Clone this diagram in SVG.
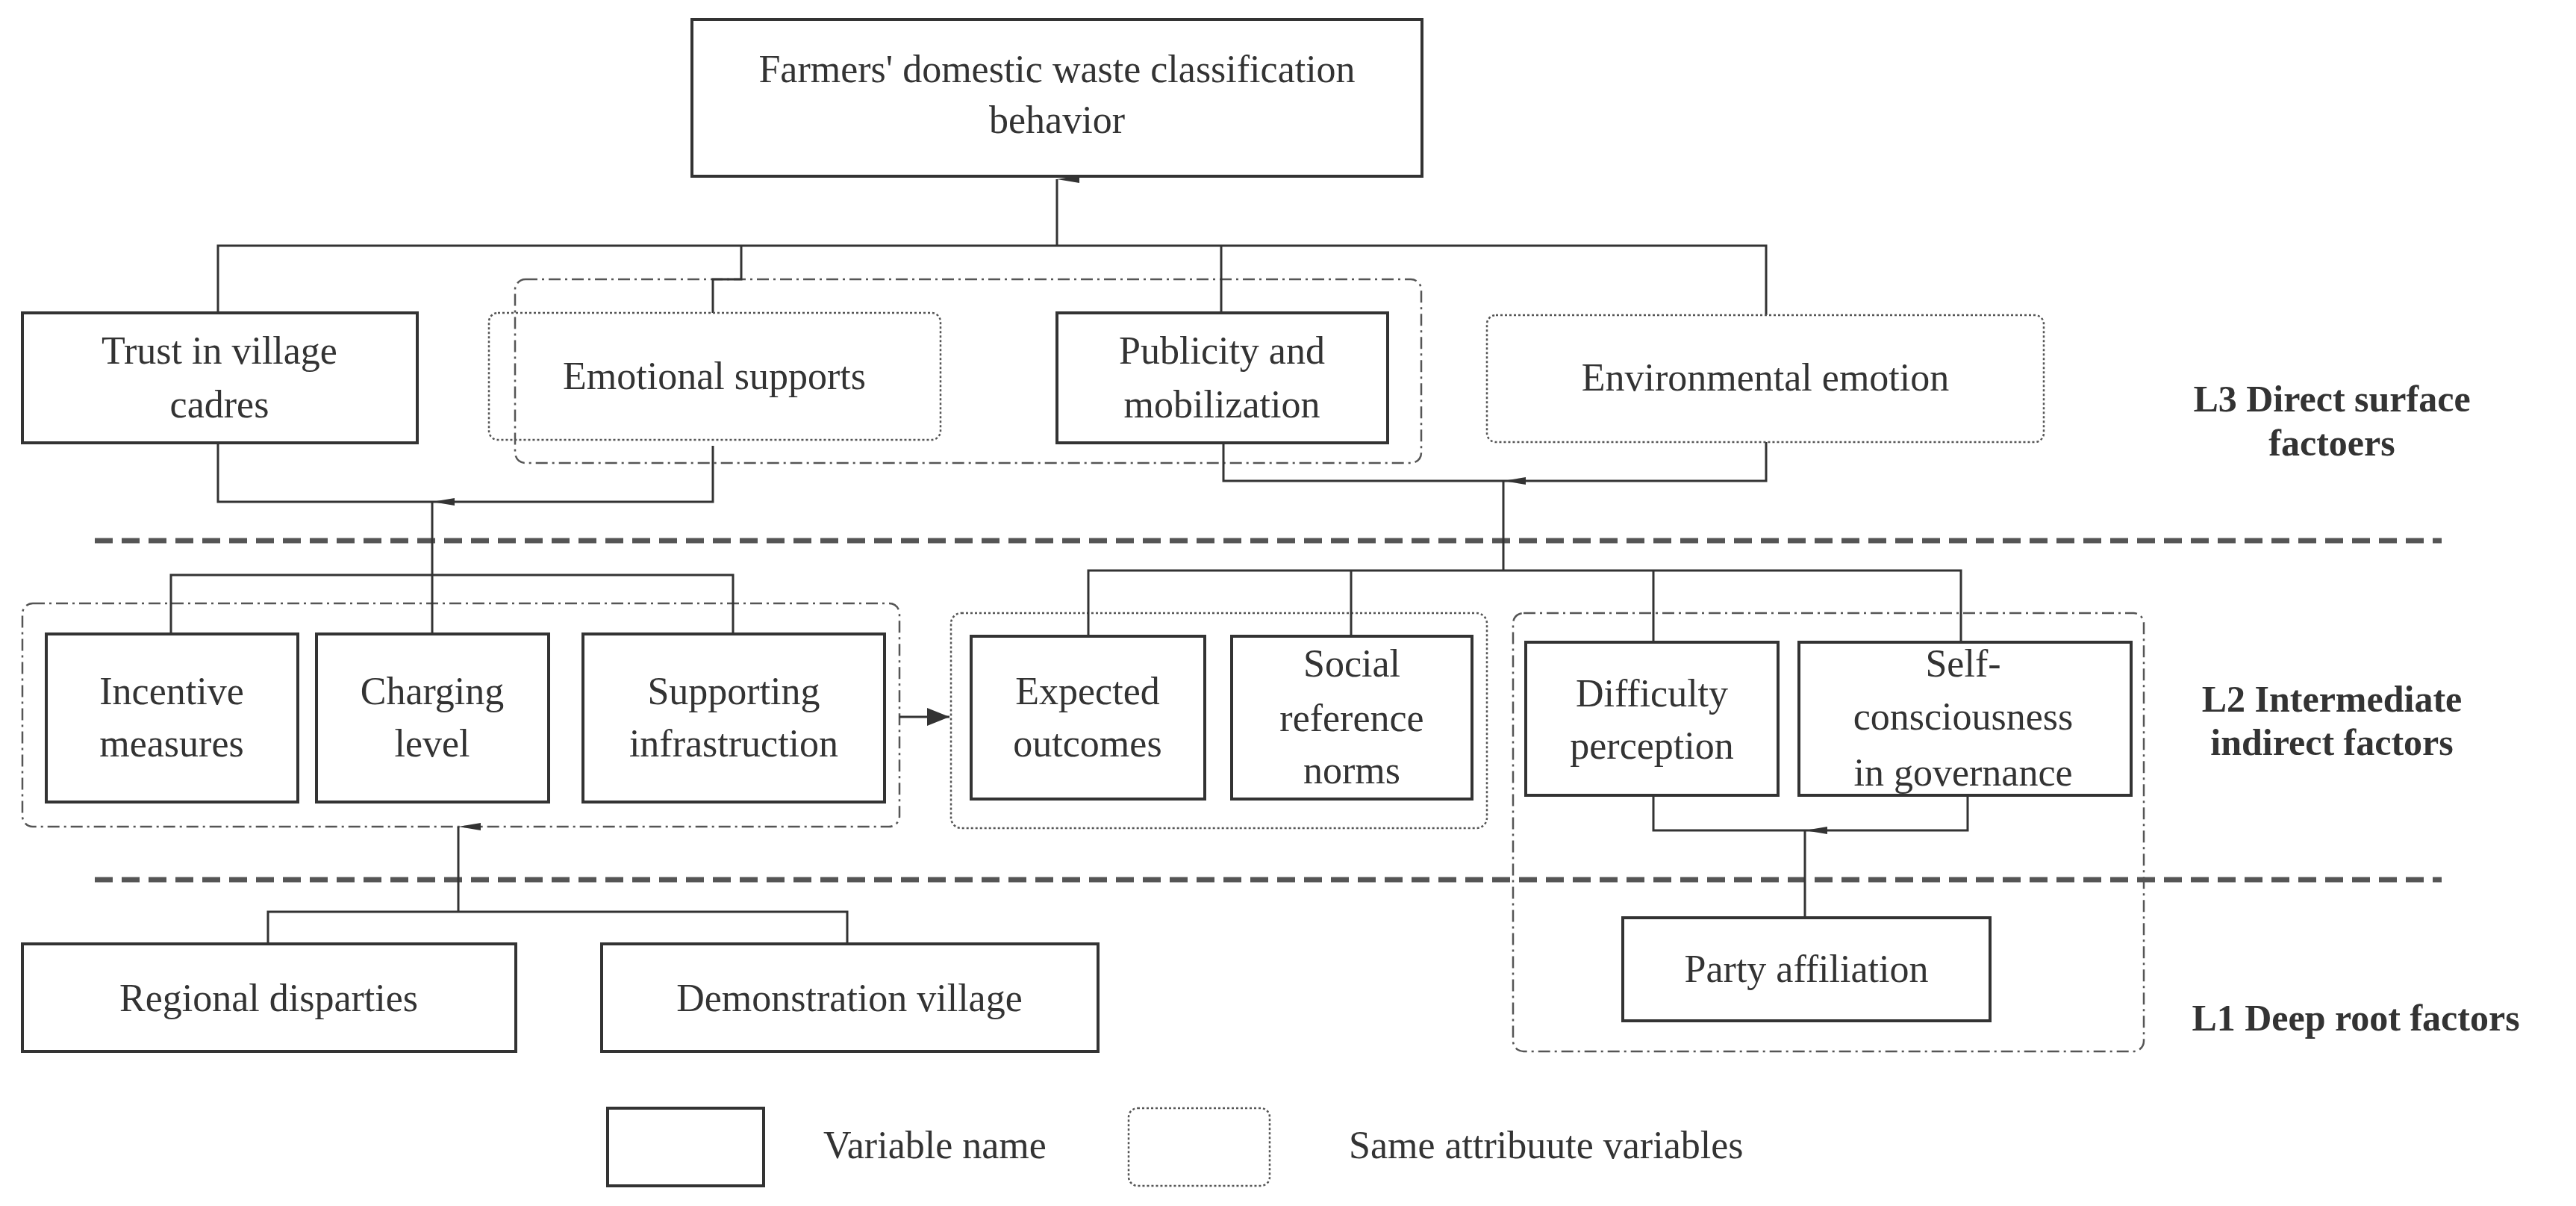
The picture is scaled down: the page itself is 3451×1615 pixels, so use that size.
<svg xmlns="http://www.w3.org/2000/svg" width="3451" height="1615" viewBox="0 0 3451 1615">
<style>
text{font-family:"Liberation Serif","Times New Roman",serif;font-size:52px;fill:#333;text-anchor:middle}
.lab{font-weight:bold;font-size:50px}
.b{fill:#fff;stroke:#333;stroke-width:4}
.d{fill:none;stroke:#555;stroke-width:2.5;stroke-dasharray:3 3}
.dd{fill:none;stroke:#555;stroke-width:2.5;stroke-dasharray:16 6 3 6}
.c{fill:none;stroke:#333;stroke-width:3}
.sep{stroke:#555;stroke-width:7;stroke-dasharray:24 12}
</style>
<defs>
<marker id="ar" viewBox="0 0 10 30" refX="5" refY="0" markerWidth="10" markerHeight="30" markerUnits="userSpaceOnUse" orient="auto-start-reverse">
<path d="M5 0L10 30L0 30Z" fill="#333"/>
</marker>
<marker id="ah" viewBox="0 0 30 24" refX="30" refY="12" markerWidth="30" markerHeight="24" markerUnits="userSpaceOnUse" orient="auto">
<path d="M0 0L30 12L0 24Z" fill="#333"/>
</marker>
</defs>
<g id="separators">
<line class="sep" x1="127" y1="724" x2="3271" y2="724"/>
<line class="sep" x1="127" y1="1178" x2="3271" y2="1178"/>
</g>
<g id="groups">
<rect class="dd" x="690" y="374" width="1214" height="246" rx="14"/>
<rect class="dd" x="30" y="808" width="1175" height="299" rx="14"/>
<rect class="d" x="1274" y="821" width="718" height="288" rx="14"/>
<rect class="dd" x="2027" y="821" width="845" height="587" rx="14"/>
</g>
<g id="connectors">
<path class="c" d="M292 419V329H2366V422"/>
<path class="c" d="M993 329V374H955V419"/>
<path class="c" d="M1636 329V419"/>
<line class="c" x1="1416" y1="329" x2="1416" y2="240" marker-end="url(#ar)"/>
<path class="c" d="M292 593V672H955V597"/>
<line class="c" x1="579" y1="770" x2="579" y2="672" marker-end="url(#ar)"/>
<path class="c" d="M1639 593V644H2366V592"/>
<line class="c" x1="2014" y1="764" x2="2014" y2="644" marker-end="url(#ar)"/>
<path class="c" d="M229 849V770H982V849"/>
<line class="c" x1="579" y1="849" x2="579" y2="770"/>
<path class="c" d="M1458 852V764H2627V860"/>
<line class="c" x1="1810" y1="764" x2="1810" y2="852"/>
<line class="c" x1="2215" y1="764" x2="2215" y2="860"/>
<line class="c" x1="1205" y1="960" x2="1272" y2="960" marker-end="url(#ah)"/>
<path class="c" d="M2215 1065V1112H2636V1065"/>
<line class="c" x1="2418" y1="1229" x2="2418" y2="1112" marker-end="url(#ar)"/>
<path class="c" d="M359 1264V1221H1135V1264"/>
<line class="c" x1="614" y1="1221" x2="614" y2="1107" marker-end="url(#ar)"/>
</g>
<g id="n-top"><rect class="b" x="927" y="26" width="978" height="210"/><text x="1416" y="110">Farmers' domestic waste classification</text><text x="1416" y="178">behavior</text></g>
<g id="n-trust"><rect class="b" x="30" y="419" width="529" height="174"/><text x="294" y="487">Trust in village</text><text x="294" y="559">cadres</text></g>
<g id="n-emo"><rect class="d" x="655" y="419" width="605" height="170" rx="12"/><text x="957" y="521">Emotional supports</text></g>
<g id="n-pub"><rect class="b" x="1416" y="419" width="443" height="174"/><text x="1637" y="487">Publicity and</text><text x="1637" y="559">mobilization</text></g>
<g id="n-env"><rect class="d" x="1992" y="422" width="746" height="170" rx="12"/><text x="2365" y="523">Environmental emotion</text></g>
<g id="n-inc"><rect class="b" x="62" y="849" width="337" height="225"/><text x="230" y="943">Incentive</text><text x="230" y="1013">measures</text></g>
<g id="n-chg"><rect class="b" x="424" y="849" width="311" height="225"/><text x="579" y="943">Charging</text><text x="579" y="1013">level</text></g>
<g id="n-sup"><rect class="b" x="781" y="849" width="404" height="225"/><text x="983" y="943">Supporting</text><text x="983" y="1013">infrastruction</text></g>
<g id="n-exp"><rect class="b" x="1301" y="852" width="313" height="218"/><text x="1457" y="943">Expected</text><text x="1457" y="1013">outcomes</text></g>
<g id="n-soc"><rect class="b" x="1650" y="852" width="322" height="218"/><text x="1811" y="906">Social</text><text x="1811" y="979">reference</text><text x="1811" y="1049">norms</text></g>
<g id="n-dif"><rect class="b" x="2044" y="860" width="338" height="205"/><text x="2213" y="946">Difficulty</text><text x="2213" y="1016">perception</text></g>
<g id="n-self"><rect class="b" x="2410" y="860" width="445" height="205"/><text x="2630" y="906">Self-</text><text x="2630" y="977">consciousness</text><text x="2630" y="1052">in governance</text></g>
<g id="n-party"><rect class="b" x="2174" y="1229" width="492" height="138"/><text x="2420" y="1315">Party affiliation</text></g>
<g id="n-reg"><rect class="b" x="30" y="1264" width="661" height="144"/><text x="360" y="1354">Regional disparties</text></g>
<g id="n-dem"><rect class="b" x="806" y="1264" width="665" height="144"/><text x="1138" y="1354">Demonstration village</text></g>
<g id="labels">
<text class="lab" x="3124" y="551">L3 Direct surface</text><text class="lab" x="3124" y="610">factoers</text>
<text class="lab" x="3124" y="953">L2 Intermediate</text><text class="lab" x="3124" y="1011">indirect factors</text>
<text class="lab" x="3156" y="1380">L1 Deep root factors</text>
</g>
<g id="legend">
<rect class="b" x="814" y="1484" width="209" height="104"/>
<text x="1103" y="1551" style="text-anchor:start">Variable name</text>
<rect class="d" x="1512" y="1484" width="189" height="104" rx="12"/>
<text x="1807" y="1551" style="text-anchor:start">Same attribuute variables</text>
</g>
</svg>
